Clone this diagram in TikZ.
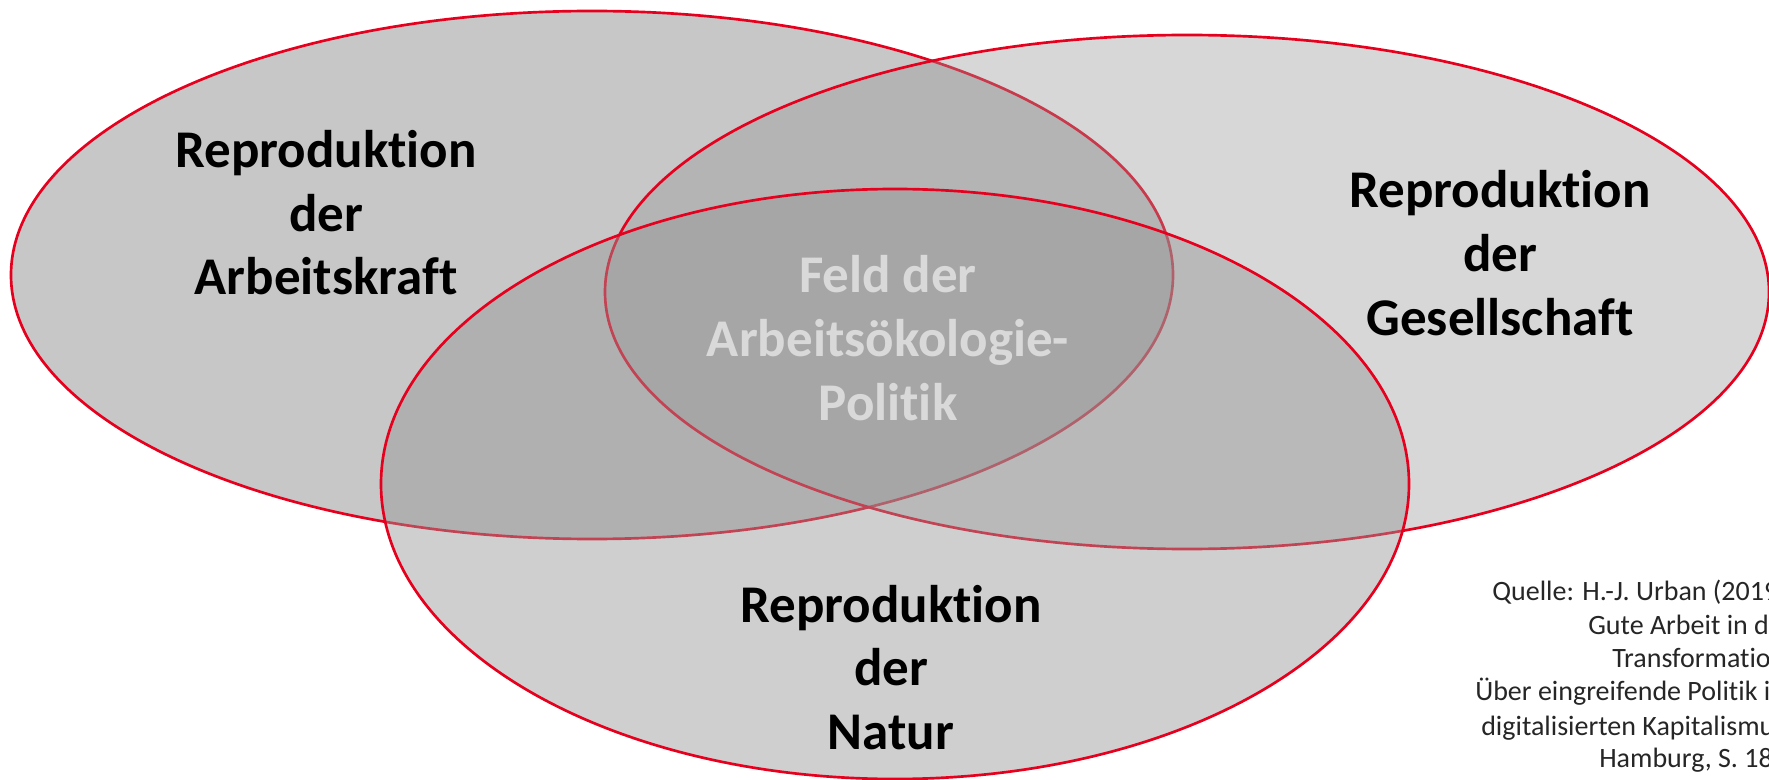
\documentclass[tikz,border=0pt]{standalone}
\usepackage{fontspec}
\setmainfont{Carlito}[Ligatures=NoCommon]
\definecolor{vred}{RGB}{230,0,30}
\definecolor{vfill}{RGB}{150,150,150}
\definecolor{ctext}{RGB}{217,217,217}
\begin{document}
\begin{tikzpicture}[x=0.75pt,y=-0.75pt,
  venn/.style={draw=vred, line width=2pt, fill=vfill},
  big/.style={font=\fontsize{39.75}{47.6}\selectfont\bfseries, anchor=base, inner sep=0pt},
  src/.style={font=\fontsize{21}{25}\selectfont, anchor=base west, inner sep=0pt, text=black!85}]
\useasboundingbox (0,0) rectangle (1769,780);
\fill[white] (0,0) rectangle (1769,780);
% ellipses: left (bottom layer), right, bottom (top layer)
\path[venn, fill opacity=0.53] (592,275) ellipse [x radius=435.75pt, y radius=198pt];
\path[venn, fill opacity=0.38] (1187,292) ellipse [x radius=436.5pt, y radius=192.75pt];
\path[venn, fill opacity=0.45] (895,484) ellipse [x radius=385.5pt, y radius=221.25pt];
% labels
\node[big] (a1) at (326,168) {Reproduktion};
\node[big] (a2) at (326,231.5) {der};
\node[big] (a3) at (326,295) {Arbeitskraft};
\node[big] (g1) at (1500,208) {Reproduktion};
\node[big] (g2) at (1500,271.5) {der};
\node[big] (g3) at (1500,335) {Gesellschaft};
\node[big, text=ctext] (f1) at (888,293) {Feld der};
\node[big, text=ctext] (f2) at (888,356.5) {Arbeitsökologie-};
\node[big, text=ctext] (f3) at (888,420) {Politik};
\node[big] (n1) at (891,622) {Reproduktion};
\node[big] (n2) at (891,685.5) {der};
\node[big] (n3) at (891,749) {Natur};
% source
\node[src] (s1) at (1492,600) {Quelle: H.-J. Urban (2019};
\node[src] (s2) at (1588,634) {Gute Arbeit in d};
\node[src] (s3) at (1612,667) {Transformatio};
\node[src] (s4) at (1475,700) {Über eingreifende Politik i};
\node[src] (s5) at (1481,735) {digitalisierten Kapitalismu};
\node[src] (s6) at (1599,767) {Hamburg, S. 18};
\end{tikzpicture}
\end{document}
